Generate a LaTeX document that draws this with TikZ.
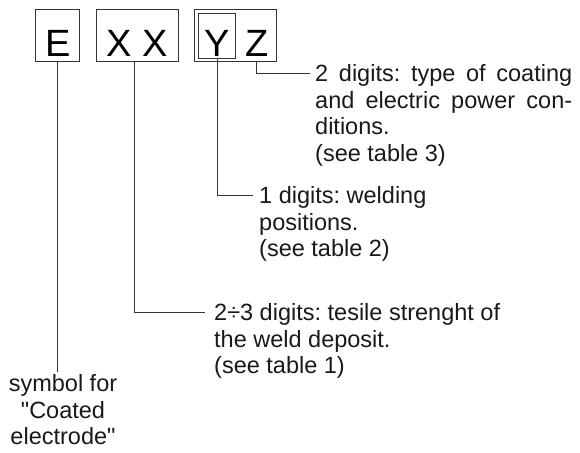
\documentclass[tikz,border=0pt]{standalone}
\usepackage{fontspec}
\setmainfont{Liberation Sans}
\usetikzlibrary{calc}
\frenchspacing

\tikzset{
  letterbox/.style={draw=black!80, line width=0.9pt, inner sep=0pt, minimum height=52.4pt,
    text height=43.5pt, text depth=1.1pt, font=\fontsize{38}{40}\selectfont},
  note/.style={anchor=north west, inner sep=0pt, align=left,
    font=\fontsize{23.5}{26.5}\selectfont, text=black!90},
  lead/.style={draw=black!80, line width=0.9pt}
}

\begin{document}
\begin{tikzpicture}[x=1pt,y=-1pt]
\useasboundingbox (0,0) rectangle (580,452);
% letter boxes
\node[letterbox, minimum width=44pt] (e) at (57.7,35.5) {E};
\node[letterbox, minimum width=82pt] (xx) at (137,35.5) {X X};
\node[letterbox, minimum width=82pt] (yz) at (235,35.5) {};
\node[letterbox, minimum width=37pt, minimum height=44.7pt] (y) at (217,35.7) {Y};
\node[letterbox, draw=none] (z) at (256.7,35.5) {Z};
% explanations
\node[note] (zt) at (315,64.5) {\makebox[257pt][s]{2 digits: type of coating}\\
  \makebox[257pt][s]{and electric power con-}\\ ditions.\\ (see table 3)};
\node[note] (yt) at (259,186.5) {1 digits: welding\\ positions.\\ (see table 2)};
\node[note] (xt) at (214,303.5) {2÷3 digits: tesile strenght of\\ the weld deposit.\\ (see table 1)};
\node[note, anchor=north, align=center] (et) at (63,374.5)
  {symbol for\\ \textquotedbl Coated\\ electrode\textquotedbl};
% leaders
\coordinate (zend) at (310,73.3);
\coordinate (yend) at (253,195);
\coordinate (xend) at (205,312);
\draw[lead] (e.south) -- ([yshift=2.5pt]e.south |- et.north);
\draw[lead] ([xshift=-3pt]xx.south) |- (xend);
\draw[lead] (y.south) |- (yend);
\draw[lead] (z.south |- yz.south) |- (zend);
\end{tikzpicture}
\end{document}
